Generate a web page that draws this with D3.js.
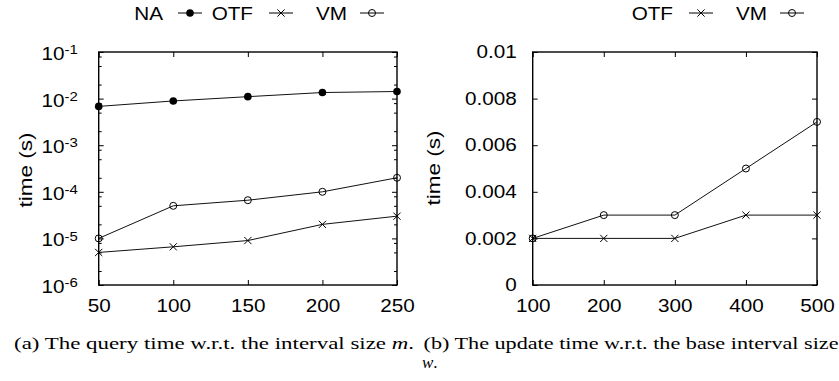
<!DOCTYPE html>
<html>
<head>
<meta charset="utf-8">
<script src="https://cdn.jsdelivr.net/npm/d3@7"></script>
<style>
  body { margin: 0; background: #fff; }
  svg { display: block; }
  .tick line { stroke: #000; stroke-width: 1; }
  .domain { display: none; }
</style>
</head>
<body>
<div id="chart"></div>
<script>
// data
var sizesM    = [50, 100, 150, 200, 250];
var naQuery   = [0.0068, 0.0089, 0.011, 0.0135, 0.0142];
var otfQuery  = [0.000005, 0.0000066, 0.000009, 0.00002, 0.00003];
var vmQuery   = [0.00001, 0.00005, 0.000066, 0.0001, 0.0002];

var baseW     = [100, 200, 300, 400, 500];
var otfUpdate = [0.002, 0.002, 0.002, 0.003, 0.003];
var vmUpdate  = [0.002, 0.003, 0.003, 0.005, 0.007];

var logTicks  = [1e-6, 1e-5, 1e-4, 1e-3, 1e-2, 1e-1];
var logExp    = ["-6", "-5", "-4", "-3", "-2", "-1"];
var linTicks  = [0, 0.002, 0.004, 0.006, 0.008, 0.01];
var linLabels = ["0", "0.002", "0.004", "0.006", "0.008", "0.01"];

var W = 839, H = 381;
var SX = 1.15;   // the original figure is a bit wider than it is tall
var sans = "Liberation Sans, Arial, sans-serif";

var svg = d3.select("#chart").append("svg")
  .attr("width", W)
  .attr("height", H);

// note: "top" is taken by window.top
var plotTop = 52, plotBottom = 285;

// move x/y into a transform so text can be stretched horizontally
function stretch(sel, sx) {
  sel.each(function() {
    var t = d3.select(this);
    var x = +t.attr("x") || 0, y = +t.attr("y") || 0;
    t.attr("x", 0).attr("y", 0)
      .attr("transform", "translate(" + x + "," + y + ") scale(" + sx + ",1)");
  });
}

function marker(g, type, x, y) {
  if (type == "dot") {
    g.append("circle").attr("cx", x).attr("cy", y).attr("r", 3.8).attr("fill", "#000");
  } else if (type == "circle") {
    g.append("circle").attr("cx", x).attr("cy", y).attr("r", 3.5)
      .attr("fill", "none").attr("stroke", "#000").attr("stroke-width", 1);
  } else {
    var s = 3.6;
    g.append("path")
      .attr("d", "M" + (x - s) + "," + (y - s) + "L" + (x + s) + "," + (y + s) +
                 "M" + (x - s) + "," + (y + s) + "L" + (x + s) + "," + (y - s))
      .attr("stroke", "#000").attr("stroke-width", 1).attr("fill", "none");
  }
}

function series(g, xs, ys, x, y, type) {
  var pts = xs.map(function(d, i) { return [x(d), y(ys[i])]; });
  g.append("path")
    .attr("d", d3.line()(pts))
    .attr("fill", "none")
    .attr("stroke", "#111")
    .attr("stroke-width", 1);
  pts.forEach(function(p) { marker(g, type, p[0], p[1]); });
}

function legendItem(g, label, textEnd, x1, x2, type) {
  var ly = 13;
  g.append("text")
    .attr("x", textEnd).attr("y", 19.5)
    .attr("text-anchor", "end")
    .style("font-family", sans).style("font-size", "18px")
    .text(label)
    .call(stretch, SX);
  g.append("line")
    .attr("x1", x1).attr("x2", x2).attr("y1", ly).attr("y2", ly)
    .attr("stroke", "#000").attr("stroke-width", 1);
  marker(g, type, (x1 + x2) / 2, ly);
}

function frame(g, x, y, xTicks, yTicks) {
  var x0 = x.range()[0], x1 = x.range()[1];
  g.append("g").attr("transform", "translate(0," + plotBottom + ")")
    .call(d3.axisBottom(x).tickValues(xTicks).tickSize(-5).tickPadding(14).tickFormat(d3.format("d")))
    .selectAll("text")
      .style("font-family", sans).style("font-size", "18px").attr("fill", "#000")
      .call(stretch, SX);
  g.append("g").attr("transform", "translate(0," + plotTop + ")")
    .call(d3.axisTop(x).tickValues(xTicks).tickSize(-5).tickFormat(""));
  g.append("g").attr("transform", "translate(" + x1 + ",0)")
    .call(d3.axisRight(y).tickValues(yTicks).tickSize(-5).tickFormat(""));
  g.append("rect")
    .attr("x", x0).attr("y", plotTop)
    .attr("width", x1 - x0).attr("height", plotBottom - plotTop)
    .attr("fill", "none").attr("stroke", "#000").attr("stroke-width", 1.4);
}

function yTitle(g, cx, cy) {
  g.append("text")
    .attr("transform", "translate(" + cx + "," + cy + ") rotate(-90) scale(1.25,1)")
    .attr("text-anchor", "middle")
    .attr("dy", "0.35em")
    .style("font-family", sans).style("font-size", "18px")
    .text("time (s)");
}

// ---------- (a) query time, log scale ----------
var ga = svg.append("g");
var xa = d3.scaleLinear().domain([50, 250]).range([98.7, 397]);
var ya = d3.scaleLog().domain([1e-6, 1e-1]).range([plotBottom, plotTop]);

var minors = [];
logTicks.slice(0, -1).forEach(function(t) {
  [2, 5, 8].forEach(function(m) { minors.push(t * m); });
});
ga.append("g").attr("transform", "translate(98.7,0)")
  .call(d3.axisLeft(ya).tickValues(minors).tickSize(-3).tickFormat(""));
ga.append("g").attr("transform", "translate(397,0)")
  .call(d3.axisRight(ya).tickValues(minors).tickSize(-3).tickFormat(""));

// the axis group has fill=none, so the labels need their own fill
ga.append("g").attr("transform", "translate(98.7,0)")
  .call(d3.axisLeft(ya).tickValues(logTicks).tickSize(-5).tickFormat(""))
  .selectAll(".tick")
  .each(function(d, i) {
    var t = d3.select(this).append("text")
      .attr("x", -21).attr("y", 0).attr("dy", "0.42em")
      .attr("text-anchor", "end").attr("fill", "#000")
      .style("font-family", sans).style("font-size", "18px");
    t.append("tspan").text("10");
    t.append("tspan").attr("dy", "-0.45em").style("font-size", "13px").text(logExp[i]);
    t.call(stretch, SX);
  });

frame(ga, xa, ya, sizesM, logTicks);
yTitle(ga, 26, 170);

series(ga, sizesM, naQuery, xa, ya, "dot");
series(ga, sizesM, vmQuery, xa, ya, "circle");
series(ga, sizesM, otfQuery, xa, ya, "cross");

legendItem(ga, "NA", 163, 178, 202, "dot");
legendItem(ga, "OTF", 253, 269, 293, "cross");
legendItem(ga, "VM", 347, 360, 384, "circle");

// ---------- (b) update time, linear ----------
var gb = svg.append("g");
var xb = d3.scaleLinear().domain([100, 500]).range([532.7, 817]);
var yb = d3.scaleLinear().domain([0, 0.01]).range([plotBottom, plotTop]);

gb.append("g").attr("transform", "translate(532.7,0)")
  .call(d3.axisLeft(yb).tickValues(linTicks).tickSize(-5).tickPadding(16)
    .tickFormat(function(d, i) { return linLabels[i]; }))
  .selectAll("text")
    .style("font-family", sans).style("font-size", "18px").attr("fill", "#000")
    .call(stretch, SX);

frame(gb, xb, yb, baseW, linTicks);
yTitle(gb, 434, 168);

series(gb, baseW, vmUpdate, xb, yb, "circle");
series(gb, baseW, otfUpdate, xb, yb, "cross");

legendItem(gb, "OTF", 673, 689, 713, "cross");
legendItem(gb, "VM", 767, 780, 804, "circle");

// ---------- captions ----------
var serif = "Liberation Serif, Times New Roman, serif";
var capA = svg.append("text")
  .attr("x", 14).attr("y", 349)
  .attr("textLength", 400).attr("lengthAdjust", "spacingAndGlyphs")
  .style("font-family", serif).style("font-size", "17px");
capA.append("tspan").text("(a) The query time w.r.t. the interval size ");
capA.append("tspan").style("font-style", "italic").text("m");
capA.append("tspan").text(".");

svg.append("text")
  .attr("x", 423.5).attr("y", 349)
  .attr("textLength", 415).attr("lengthAdjust", "spacingAndGlyphs")
  .style("font-family", serif).style("font-size", "17px")
  .text("(b) The update time w.r.t. the base interval size");

var capB2 = svg.append("text")
  .attr("x", 422).attr("y", 368)
  .style("font-family", serif).style("font-size", "17px");
capB2.append("tspan").style("font-style", "italic").text("w");
capB2.append("tspan").text(".");
</script>
</body>
</html>
